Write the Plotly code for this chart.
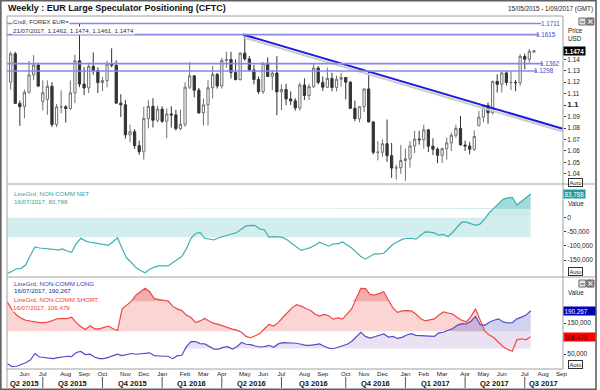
import pandas as pd
import plotly.graph_objects as go

# ---------------- data ----------------
# Weekly EUR/USD candles (week ending Friday), 15/05/2015 .. 21/07/2017
price_open = [
    # 2015
    1.1200, 1.1447, 1.1015, 1.0986, 1.1112, 1.1263, 1.1350,
    1.1030, 1.1050, 1.1164, 1.0830, 1.0985,
    1.0985, 1.0970, 1.1107, 1.1387,
    1.1183, 1.1150, 1.1338, 1.1301,
    1.1196, 1.1214, 1.1358, 1.1347, 1.1017,
    1.1003, 1.0741, 1.0768, 1.0646,
    1.0593, 1.0882, 1.0989, 1.0868,
    # 2016
    1.0965, 1.0859, 1.0923, 1.0915, 1.0796,
    1.0833, 1.1156, 1.1255, 1.1130,
    1.0932, 1.1002, 1.1152, 1.1268,
    1.1167, 1.1390, 1.1398, 1.1285, 1.1222,
    1.1453, 1.1403, 1.1307, 1.1223,
    1.1117, 1.1365, 1.1250, 1.1279,
    1.1115, 1.1137, 1.1054, 1.1037, 1.0976,
    1.1175, 1.1084, 1.1161, 1.1323,
    1.1198, 1.1156, 1.1233, 1.1154, 1.1225,
    1.1241, 1.1200, 1.0972, 1.0882,
    1.0986, 1.1141, 1.0853, 1.0588,
    1.0589, 1.0663, 1.0559, 1.0451, 1.0453,
    # 2017
    1.0517, 1.0531, 1.0644, 1.0704,
    1.0698, 1.0784, 1.0642, 1.0616,
    1.0562, 1.0620, 1.0671, 1.0737, 1.0797,
    1.0652, 1.0643, 1.0615, 1.0820,
    1.0895, 1.0997, 1.0933, 1.1207,
    1.1181, 1.1281, 1.1197, 1.1198, 1.1195,
    1.1425, 1.1400, 1.1462,
]
price_high = [
    1.1467, 1.1465, 1.1040, 1.1135, 1.1385, 1.1436, 1.1370,
    1.1216, 1.1215, 1.1200, 1.1010, 1.1129,
    1.1000, 1.1215, 1.1440, 1.1714,
    1.1332, 1.1370, 1.1460, 1.1330,
    1.1245, 1.1387, 1.1495, 1.1390, 1.1095,
    1.1044, 1.0830, 1.0790, 1.0690,
    1.0985, 1.1043, 1.1060, 1.0994,
    1.0990, 1.0970, 1.0990, 1.0960, 1.0960,
    1.1200, 1.1376, 1.1260, 1.1150,
    1.1057, 1.1218, 1.1342, 1.1280,
    1.1413, 1.1465, 1.1465, 1.1399, 1.1459,
    1.1616, 1.1428, 1.1350, 1.1250,
    1.1374, 1.1416, 1.1300, 1.1427,
    1.1180, 1.1186, 1.1120, 1.1060, 1.1198,
    1.1234, 1.1185, 1.1366, 1.1340,
    1.1250, 1.1327, 1.1283, 1.1257, 1.1280,
    1.1245, 1.1210, 1.1040, 1.0990,
    1.1145, 1.1300, 1.0860, 1.0685,
    1.0700, 1.0874, 1.0670, 1.0480, 1.0653,
    1.0620, 1.0685, 1.0775, 1.0775,
    1.0829, 1.0790, 1.0710, 1.0630,
    1.0630, 1.0715, 1.0760, 1.0830, 1.0906,
    1.0690, 1.0680, 1.0780, 1.0950,
    1.0998, 1.1023, 1.1212, 1.1268,
    1.1285, 1.1296, 1.1296, 1.1220, 1.1445,
    1.1450, 1.1490, 1.1474,
]
price_low = [
    1.1135, 1.1010, 1.0819, 1.0887, 1.1100, 1.1218, 1.1157,
    1.0955, 1.0915, 1.0808, 1.0808, 1.0929,
    1.0848, 1.0960, 1.1017, 1.1156,
    1.1087, 1.1105, 1.1265, 1.1105,
    1.1120, 1.1155, 1.1330, 1.1012, 1.0895,
    1.0708, 1.0675, 1.0617, 1.0567,
    1.0524, 1.0797, 1.0805, 1.0850,
    1.0845, 1.0711, 1.0805, 1.0778, 1.0780,
    1.0810, 1.1140, 1.1068, 1.0925,
    1.0822, 1.0822, 1.1058, 1.1145,
    1.1145, 1.1325, 1.1233, 1.1217, 1.1215,
    1.1388, 1.1300, 1.1181, 1.1097,
    1.1097, 1.1250, 1.1130, 1.0912,
    1.0955, 1.1000, 1.1000, 1.0952, 1.0952,
    1.1045, 1.1045, 1.1150, 1.1180,
    1.1123, 1.1150, 1.1120, 1.1120, 1.1160,
    1.1050, 1.0965, 1.0860, 1.0850,
    1.0940, 1.0850, 1.0570, 1.0518,
    1.0550, 1.0505, 1.0365, 1.0352, 1.0400,
    1.0340, 1.0455, 1.0580, 1.0655,
    1.0620, 1.0590, 1.0565, 1.0494,
    1.0495, 1.0525, 1.0600, 1.0715, 1.0648,
    1.0600, 1.0570, 1.0600, 1.0820,
    1.0850, 1.0838, 1.0920, 1.1110,
    1.1110, 1.1170, 1.1130, 1.1120, 1.1170,
    1.1312, 1.1370, 1.1461,
]
price_close = [
    1.1447, 1.1015, 1.0986, 1.1112, 1.1263, 1.1350, 1.1166,
    1.1108, 1.1164, 1.0830, 1.0985, 1.0985,
    1.0970, 1.1107, 1.1387, 1.1183,
    1.1150, 1.1338, 1.1301, 1.1196,
    1.1214, 1.1358, 1.1347, 1.1017, 1.1003,
    1.0741, 1.0768, 1.0646, 1.0593,
    1.0882, 1.0989, 1.0868, 1.0965,
    1.0859, 1.0923, 1.0915, 1.0796, 1.0833,
    1.1156, 1.1255, 1.1130, 1.0932,
    1.1002, 1.1152, 1.1268, 1.1167,
    1.1390, 1.1398, 1.1285, 1.1222, 1.1453,
    1.1403, 1.1307, 1.1223, 1.1117,
    1.1365, 1.1250, 1.1279, 1.1115,
    1.1137, 1.1054, 1.1037, 1.0976, 1.1175,
    1.1084, 1.1161, 1.1323, 1.1198,
    1.1156, 1.1233, 1.1154, 1.1225, 1.1241,
    1.1200, 1.0972, 1.0882, 1.0986,
    1.1141, 1.0853, 1.0588, 1.0589,
    1.0663, 1.0559, 1.0451, 1.0453, 1.0517,
    1.0531, 1.0644, 1.0704, 1.0698,
    1.0784, 1.0642, 1.0616, 1.0562,
    1.0620, 1.0671, 1.0737, 1.0797, 1.0652,
    1.0643, 1.0615, 1.0726, 1.0895,
    1.0997, 1.0933, 1.1207, 1.1181,
    1.1281, 1.1197, 1.1198, 1.1195, 1.1425,
    1.1400, 1.1469, 1.1474,
]

# CFTC non-commercial positions (contracts), weekly, 10/05/2015 .. 16/07/2017
net_position = [
    -199000, -189000, -181000, -179500, -167000, -134000, -104000, -107500, -109000, -109000,
    -112000, -115000, -111000, -118000, -123000, -92000, -73000, -82000, -87000, -89000,
    -92000, -94000, -98000, -85500, -71000, -110000, -143000, -159000, -177000, -187000,
    -195000, -183000, -175000, -171000, -171000, -171000, -160000, -150000, -138000, -110000,
    -73000, -56000, -52500, -73000, -77000, -79000, -71000, -67000, -61000, -59000,
    -52500, -40000, -29000, -27000, -28000, -40000, -43000, -70000, -67000, -68000,
    -70000, -79000, -92000, -104000, -116000, -111000, -106000, -98000, -87000, -94000,
    -101000, -93000, -93000, -86000, -96000, -107500, -122000, -138000, -147000, -138000,
    -128000, -128000, -126000, -110000, -94000, -85500, -77000, -73000, -73000, -76000,
    -62000, -50000, -51000, -54000, -62000, -59000, -67000, -52500, -33000, -16000,
    -16000, -21000, -27000, -22000, -4000, 18000, 33000, 49000, 65000, 70000,
    72000, 45000, 59000, 72000, 83788,
]
long_position = [
    18400, 9500, 10600, 16200, 21800, 30600, 51800, 40600, 38400, 37300,
    35100, 38400, 40600, 42900, 41800, 55100, 58400, 48400, 49500, 40600,
    35100, 35100, 39500, 44000, 49500, 45100, 49500, 51800, 49500, 50600,
    52900, 54000, 45100, 42900, 42900, 42900, 35100, 44000, 46200, 74000,
    90600, 90600, 84000, 82900, 74000, 66200, 66200, 71800, 74000, 66200,
    74000, 87300, 81800, 80600, 76200, 72900, 74000, 78400, 71800, 82900,
    87300, 87300, 86200, 85000, 81800, 78400, 78400, 79500, 82900, 75100,
    69500, 67300, 71800, 77300, 81800, 90600, 105100, 120600, 107300, 101800,
    106200, 111800, 115100, 105100, 107300, 100600, 104000, 111800, 116200, 110600,
    109500, 107300, 107300, 107300, 118400, 120600, 127300, 131800, 142900, 148400,
    147300, 156200, 171800, 145100, 142900, 152900, 159500, 164000, 154000, 150600,
    151700, 164000, 169500, 176200, 190267,
]
short_position = [
    218400, 193900, 176200, 166200, 159500, 156200, 154000, 151700, 151700, 154000,
    159500, 165000, 165000, 165000, 169500, 151700, 138400, 129500, 141700, 131800,
    131800, 136200, 140600, 131800, 126200, 196200, 209500, 220600, 240600, 251700,
    262800, 251700, 229500, 226200, 224000, 221700, 205100, 196200, 190600, 176200,
    168400, 151700, 157300, 165000, 156200, 149500, 146200, 140600, 137300, 130600,
    127300, 120600, 107300, 102900, 109500, 116200, 131800, 146200, 140600, 151700,
    168400, 185000, 199500, 209500, 205100, 197300, 191700, 179500, 172800, 178400,
    174000, 162900, 167300, 162900, 179500, 196200, 229500, 262800, 261700, 242900,
    240600, 245100, 251700, 224000, 199500, 185000, 189500, 190600, 189500, 179500,
    165000, 157300, 159500, 164000, 176200, 186200, 182800, 179500, 168400, 159500,
    154000, 171800, 196200, 162900, 124000, 111800, 102900, 88400, 74000, 65100,
    59500, 96200, 99500, 96200, 106479,
]

price_dates = pd.date_range("2015-05-15", periods=len(price_close), freq="7D")
cftc_dates = pd.date_range("2015-05-10", periods=len(net_position), freq="7D")

level_values = [1.1711, 1.1615, 1.1362, 1.1298]
trend_dates = ["2016-05-03", "2017-09-03"]
trend_values = [1.1616, 1.0794]

net_band = [-69500, 0]
net_upper = 30500
short_band = [124200, 220600]
long_band = [68400, 124200]

month_ticks = ["2015-06-05", "2015-07-03", "2015-08-07", "2015-09-04", "2015-10-02",
               "2015-11-06", "2015-12-04", "2016-01-01", "2016-02-05", "2016-03-04",
               "2016-04-01", "2016-05-06", "2016-06-03", "2016-07-01", "2016-08-05",
               "2016-09-02", "2016-10-07", "2016-11-04", "2016-12-02", "2017-01-06",
               "2017-02-03", "2017-03-03", "2017-04-07", "2017-05-05", "2017-06-02",
               "2017-07-07", "2017-08-04", "2017-09-01"]
month_labels = ["Jun", "Jul", "Aug", "Sep", "Oct", "Nov", "Dec", "Jan", "Feb", "Mar",
                "Apr", "May", "Jun", "Jul", "Aug", "Sep", "Oct", "Nov", "Dec", "Jan",
                "Feb", "Mar", "Apr", "May", "Jun", "Jul", "Aug", "Sep"]
quarter_starts = ["2015-07-03", "2015-10-02", "2016-01-01", "2016-04-01", "2016-07-01",
                  "2016-10-07", "2017-01-06", "2017-04-07", "2017-07-07"]
quarter_labels = ["Q2 2015", "Q3 2015", "Q4 2015", "Q1 2016", "Q2 2016", "Q3 2016",
                  "Q4 2016", "Q1 2017", "Q2 2017", "Q3 2017"]

price_ticks = [1.04, 1.05, 1.06, 1.07, 1.08, 1.09, 1.10, 1.11, 1.12, 1.13, 1.14]
net_ticks = [-150000, -100000, -50000, 0]
pos_ticks = [50000, 150000]

# ---------------- layout geometry ----------------
W, H = 600, 390
PL, PR, PT, PB = 7, 566, 16, 369
SEP1, SEP2 = 184, 277
X0, X1 = "2015-05-09 10:00", "2017-09-03 08:00"
FONT = "Liberation Sans"


def px(x):
    return (x - PL) / (PR - PL)


def py(y):
    return (PB - y) / (PB - PT)


def ann(x, y, text, size=6.3, color="#222222", xanchor="left", **kw):
    d = dict(x=px(x), y=py(y), xref="paper", yref="paper", text=text, showarrow=False,
             xanchor=xanchor, yanchor="middle", font=dict(size=size, color=color, family=FONT))
    d.update(kw)
    return d


def band_traces(x, values, lo, hi, color, xa, ya):
    lower = [lo] * len(values)
    upper = [min(max(v, lo), hi) for v in values]
    return [
        go.Scatter(x=x, y=lower, mode="lines", line=dict(width=0, color=color),
                   hoverinfo="skip", xaxis=xa, yaxis=ya),
        go.Scatter(x=x, y=upper, mode="lines", line=dict(width=0, color=color),
                   fill="tonexty", fillcolor=color, hoverinfo="skip", xaxis=xa, yaxis=ya),
    ]


BIG = 1e9
traces = []
# net panel fills
traces += band_traces(cftc_dates, net_position, net_band[1], net_upper, "#cdebeb", "x2", "y2")
traces += band_traces(cftc_dates, net_position, net_upper, BIG, "#a2d9d9", "x2", "y2")
traces.append(go.Scatter(x=cftc_dates, y=net_position, mode="lines",
                         line=dict(color="#3fb0b0", width=1.2), xaxis="x2", yaxis="y2"))
# long / short fills
traces += band_traces(cftc_dates, short_position, short_band[0], short_band[1],
                      "rgba(240,90,90,0.26)", "x3", "y3")
traces += band_traces(cftc_dates, short_position, short_band[1], BIG,
                      "rgba(225,70,70,0.45)", "x3", "y3")
traces += band_traces(cftc_dates, long_position, long_band[0], long_band[1],
                      "rgba(160,120,200,0.22)", "x3", "y3")
traces += band_traces(cftc_dates, long_position, long_band[1], BIG,
                      "rgba(90,90,200,0.28)", "x3", "y3")
traces.append(go.Scatter(x=cftc_dates, y=short_position, mode="lines",
                         line=dict(color="#f24646", width=1.2), xaxis="x3", yaxis="y3"))
traces.append(go.Scatter(x=cftc_dates, y=long_position, mode="lines",
                         line=dict(color="#5050c8", width=1.2), xaxis="x3", yaxis="y3"))
# candles
traces.append(go.Candlestick(
    x=price_dates, open=price_open, high=price_high, low=price_low, close=price_close,
    increasing=dict(line=dict(color="#707070", width=1), fillcolor="#ffffff"),
    decreasing=dict(line=dict(color="#333333", width=1), fillcolor="#333333"),
    whiskerwidth=0, xaxis="x", yaxis="y", hoverinfo="skip"))
# trend line with shadow
traces.append(go.Scatter(x=trend_dates, y=[v - 0.0024 for v in trend_values], mode="lines",
                         line=dict(color="#cccccc", width=2), xaxis="x", yaxis="y"))
traces.append(go.Scatter(x=trend_dates, y=trend_values, mode="lines",
                         line=dict(color="#1c1ce0", width=2), xaxis="x", yaxis="y"))

fig = go.Figure(traces)

axis_font = dict(size=6.5, color="#222222", family=FONT)
common_x = dict(range=[X0, X1], type="date", showgrid=False, zeroline=False, showline=False,
                ticks="", fixedrange=True)
common_y = dict(side="right", showgrid=False, zeroline=False, showline=False, ticks="outside",
                ticklen=2, tickcolor="#333333", tickfont=axis_font, fixedrange=True)

price_text = ["<b><span style='font-size:8px'>1.1</span></b>" if abs(v - 1.1) < 1e-9 else f"{v:.2f}"
              for v in price_ticks]

fig.update_layout(
    width=W, height=H, margin=dict(l=PL, r=W - PR, t=PT, b=H - PB),
    paper_bgcolor="white", plot_bgcolor="white", showlegend=False,
    font=dict(family=FONT, size=7, color="#222222"),
    xaxis=dict(common_x, domain=[0, 1], anchor="y", showticklabels=False,
               rangeslider=dict(visible=False)),
    xaxis2=dict(common_x, domain=[0, 1], anchor="y2", matches="x", showticklabels=False),
    xaxis3=dict(common_x, domain=[0, 1], anchor="y3", matches="x",
                tickmode="array", tickvals=month_ticks, ticktext=month_labels,
                tickfont=dict(size=6.2, color="#222222", family=FONT)),
    yaxis=dict(common_y, domain=[py(SEP1), 1], anchor="x", range=[1.0312, 1.1777],
               tickmode="array", tickvals=price_ticks, ticktext=price_text),
    yaxis2=dict(common_y, domain=[py(SEP2), py(SEP1)], anchor="x2", range=[-210300, 119500],
                tickmode="array", tickvals=net_ticks, ticktext=[f"{v:,}" for v in net_ticks]),
    yaxis3=dict(common_y, domain=[0, py(SEP2)], anchor="x3", range=[1700, 299400],
                tickmode="array", tickvals=pos_ticks, ticktext=[f"{v:,}" for v in pos_ticks]),
)

shapes = []
# net constant band
shapes.append(dict(type="rect", xref="x2", yref="y2", x0=cftc_dates[0], x1=cftc_dates[-1],
                   y0=net_band[0], y1=net_band[1], fillcolor="#d3eeee", line=dict(width=0),
                   layer="below"))
# level lines
level_line_end = [544, 542, 546, 540]
level_label_right = [565, 561, 565, 559]
for v, xe in zip(level_values, level_line_end):
    shapes.append(dict(type="line", xref="paper", yref="y", x0=0, x1=px(xe), y0=v, y1=v,
                       line=dict(color="#8888e6", width=1.6), layer="above"))
# frame lines
grey = "#a0a0a0"
shapes.append(dict(type="rect", xref="paper", yref="paper", x0=0, x1=1, y0=0, y1=1,
                   line=dict(color=grey, width=1)))
for ys in (SEP1, SEP2):
    shapes.append(dict(type="line", xref="paper", yref="paper", x0=px(PL), x1=px(598),
                       y0=py(ys), y1=py(ys), line=dict(color=grey, width=1)))
shapes.append(dict(type="line", xref="paper", yref="paper", x0=px(PL), x1=px(PL),
                   y0=py(PB), y1=py(388), line=dict(color=grey, width=1)))
# quarter separators
for q in quarter_starts:
    shapes.append(dict(type="line", xref="x3", yref="paper", x0=q, x1=q, y0=py(377), y1=py(388),
                       line=dict(color="#555555", width=1)))
# outer border
shapes.append(dict(type="rect", xref="paper", yref="paper", x0=px(0.8), x1=px(599.2),
                   y0=py(389.2), y1=py(0.8), line=dict(color="#606060", width=1.6)))
# window buttons
for by in (21.5, 283.5):
    shapes.append(dict(type="rect", xref="paper", yref="paper", x0=px(582), x1=px(589),
                       y0=py(by + 3.5), y1=py(by - 3.5), fillcolor="#e2e2e2",
                       line=dict(color="#6a6a6a", width=1)))
    shapes.append(dict(type="line", xref="paper", yref="paper", x0=px(583.5), x1=px(587.5),
                       y0=py(by + 0.5), y1=py(by + 0.5), line=dict(color="#555555", width=1)))
    shapes.append(dict(type="rect", xref="paper", yref="paper", x0=px(590), x1=px(597),
                       y0=py(by + 3.5), y1=py(by - 3.5), fillcolor="#9a8f8f",
                       line=dict(color="#555555", width=1)))
    shapes.append(dict(type="line", xref="paper", yref="paper", x0=px(591.5), x1=px(595.5),
                       y0=py(by + 2), y1=py(by - 2), line=dict(color="white", width=1)))
    shapes.append(dict(type="line", xref="paper", yref="paper", x0=px(591.5), x1=px(595.5),
                       y0=py(by - 2), y1=py(by + 2), line=dict(color="white", width=1)))
fig.update_layout(shapes=shapes)

A = []
A.append(ann(6, 8.5, "<b>Weekly : EUR Large Speculator Positioning (CFTC)</b>", size=9,
             color="#111111"))
A.append(ann(598, 9, "15/05/2015 - 1/09/2017 (GMT)", size=6.3, xanchor="right"))
last = len(price_close) - 1
A.append(ann(12, 21.7, "Cndl, FOREX EUR=", size=6.2, color="#333333", bgcolor="white",
             borderpad=0))
A.append(ann(12, 30.2,
             f"{price_dates[last]:%d/%m/%Y}, {price_open[last]:.4f}, {price_high[last]:.4f}, "
             f"{price_low[last]:.4f}, {price_close[last]:.4f}",
             size=6.2, color="#333333", bgcolor="white", borderpad=0))
for v, xr in zip(level_values, level_label_right):
    A.append(dict(x=px(xr), y=v, xref="paper", yref="y", text=f"{v:.4f}", showarrow=False,
                  xanchor="right", yanchor="middle",
                  font=dict(size=6.3, color="#4646c8", family=FONT)))
A.append(ann(569, 30.5, "Price", size=6.3))
A.append(ann(569, 38.5, "USD", size=6.3))
A.append(dict(x=1, y=price_close[-1], xref="paper", yref="y", text=f"<b>{price_close[-1]:.4f}</b>",
              showarrow=False, xanchor="left", yanchor="middle", bgcolor="#000000",
              borderpad=0.5, font=dict(size=6.3, color="white", family=FONT)))
# net panel
netc = "#38a0a0"
A.append(ann(12, 193.3, "LineGrd, NON-COMM NET", size=6.2, color=netc))
A.append(ann(12, 201, f"{cftc_dates[-1]:%d/%m/%Y}, {net_position[-1]:,}", size=6.2, color=netc))
A.append(ann(569, 203, "Value", size=6.3))
A.append(dict(x=1, y=net_position[-1], xref="paper", yref="y2", text=f"{net_position[-1]:,}",
              showarrow=False, xanchor="left", yanchor="middle", bgcolor="#1f9d9d",
              borderpad=0.5, font=dict(size=6.3, color="white", family=FONT)))
# long / short panel
A.append(ann(12, 283, "LineGrd, NON-COMM LONG", size=6.2, color="#3c3cb4"))
A.append(ann(12, 290.5, f"{cftc_dates[-1]:%d/%m/%Y}, {long_position[-1]:,}", size=6.2,
             color="#1e1e8c"))
A.append(ann(12, 299, "LineGrd, NON-COMM SHORT", size=6.2, color="#f03c3c"))
A.append(ann(12, 307.5, f"{cftc_dates[-1]:%d/%m/%Y}, {short_position[-1]:,}", size=6.2,
             color="#f03c3c", bgcolor="white", borderpad=0))
A.append(ann(569, 292, "Value", size=6.3))
A.append(dict(x=1, y=long_position[-1], xref="paper", yref="y3", text=f"{long_position[-1]:,}",
              showarrow=False, xanchor="left", yanchor="middle", bgcolor="#0000b4", width=30,
              align="left", borderpad=0.5, font=dict(size=6.3, color="white", family=FONT)))
A.append(dict(x=1, y=short_position[-1], xref="paper", yref="y3", text=f"{short_position[-1]:,}",
              showarrow=False, xanchor="left", yanchor="middle", bgcolor="#ff0000", width=30,
              align="left", borderpad=0.5, font=dict(size=6.3, color="#330000", family=FONT)))
# Auto boxes
for ya in (182, 271, 364):
    A.append(ann(571, ya, "Auto", size=5.8, bordercolor="#333333", borderwidth=1,
                 borderpad=0.5, bgcolor="white"))
# quarter labels
bounds = [pd.Timestamp(X0)] + [pd.Timestamp(q) for q in quarter_starts] + [pd.Timestamp(X1)]
for i, lab in enumerate(quarter_labels):
    mid = bounds[i] + (bounds[i + 1] - bounds[i]) / 2
    A.append(dict(x=mid, y=py(383), xref="x3", yref="paper", text=f"<b>{lab}</b>",
                  showarrow=False, xanchor="center", yanchor="middle",
                  font=dict(size=7.5, color="#111111", family=FONT)))
fig.update_layout(annotations=A)

fig.write_html("out.html", config={"displayModeBar": False},
               post_script="document.body.style.margin='0px';document.body.style.padding='0px';")
